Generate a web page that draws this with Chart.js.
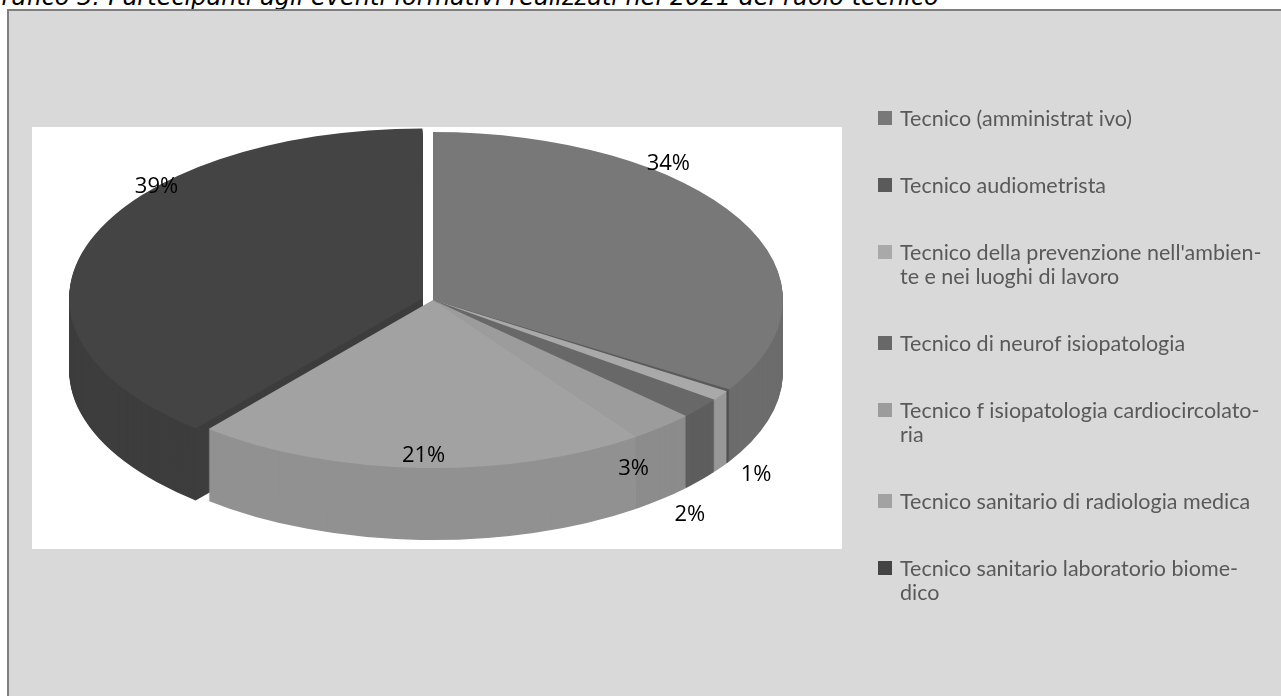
<!DOCTYPE html>
<html lang="it">
<head>
<meta charset="utf-8">
<script src="https://cdn.jsdelivr.net/npm/chart.js@4.4.0/dist/chart.umd.min.js"></script>
<style>
  html, body { margin: 0; padding: 0; background: #fff; width: 1281px; height: 696px; overflow: hidden; }
  #title {
    position: absolute; left: -17px; top: -15px; white-space: nowrap;
    font: italic 24px/24px "DejaVu Sans", sans-serif; color: #000;
  }
  #frame {
    position: absolute; left: 7px; top: 9px; width: 1300px; height: 720px;
    background: #d9d9d9; border: 2px solid #7f7f7f;
  }
  #plot { position: absolute; left: 32px; top: 127px; width: 810px; height: 422px; background: #fff; }
  #chart { position: absolute; left: 0; top: 0; }
  #legend {
    position: absolute; left: 878px; top: 106px; width: 400px;
    font: 21.5px/24px Lato, sans-serif; color: #595959;
  }
  .item { position: relative; padding-left: 22px; margin-bottom: 43px; white-space: pre; }
  .swatch { position: absolute; left: 0; top: 5px; width: 14px; height: 14px; }
</style>
</head>
<body>
<div id="title">Grafico 3: Partecipanti agli eventi formativi realizzati nel 2021 del ruolo tecnico</div>
<div id="frame"></div>
<div id="plot"></div>
<canvas id="chart" width="1281" height="696"></canvas>
<div id="legend"></div>

<script>
// Data
const categories = [
  'Tecnico (amministrat ivo)',
  'Tecnico audiometrista',
  "Tecnico della prevenzione nell'ambien-\nte e nei luoghi di lavoro",
  'Tecnico di neurof isiopatologia',
  'Tecnico f isiopatologia cardiocircolato-\nria',
  'Tecnico sanitario di radiologia medica',
  'Tecnico sanitario laboratorio biome-\ndico'
];
const shares = [34, 0.2, 1, 2, 3, 21, 39]; // percent
const sliceColors = ['#787878', '#5a5a5a', '#a9a9a9', '#686868', '#9c9c9c', '#a2a2a2', '#444444'];
const explode = [0, 0, 0, 0, 0, 0, 40];

// Fake 3D: squash the pie into an ellipse and extrude a side wall
const tiltPlugin = {
  id: 'tilt',
  beforeDatasetsDraw(chart, args, opts) {
    const ctx = chart.ctx;
    const arcs = chart.getDatasetMeta(0).data;
    const a0 = arcs[0];
    const R = a0.outerRadius;
    ctx.save();
    ctx.translate(opts.cx, opts.cy);
    ctx.scale(opts.rx / R, opts.ry / R);
    ctx.translate(-a0.x, -a0.y);

    // back slices first
    const order = arcs.map((a, i) => i)
      .sort((i, j) => Math.sin((arcs[i].startAngle + arcs[i].endAngle) / 2) - Math.sin((arcs[j].startAngle + arcs[j].endAngle) / 2));
    const step = R / opts.ry;
    order.forEach(i => {
      for (let d = opts.depth; d >= 1; d--) {
        ctx.save();
        ctx.translate(0, d * step);
        arcs[i].draw(ctx);
        ctx.restore();
      }
    });
    // darken the side wall
    ctx.save();
    ctx.setTransform(1, 0, 0, 1, 0, 0);
    ctx.globalCompositeOperation = 'source-atop';
    ctx.fillStyle = 'rgba(0,0,0,0.1)';
    ctx.fillRect(0, 0, chart.width, chart.height);
    ctx.restore();
  },
  afterDatasetsDraw(chart) {
    chart.ctx.restore();
  },
  afterDraw(chart, args, opts) {
    const ctx = chart.ctx;
    const arcs = chart.getDatasetMeta(0).data;
    ctx.save();
    ctx.font = '22px "Open Sans", sans-serif';
    ctx.fillStyle = '#000';
    ctx.textAlign = 'center';
    ctx.textBaseline = 'middle';
    arcs.forEach((arc, i) => {
      if (shares[i] < 0.5) return;
      const [da, f] = opts.labelTweak[i];
      const t = (arc.startAngle + arc.endAngle) / 2 + da * Math.PI / 180;
      const x = opts.cx + opts.rx * f * Math.cos(t);
      const y = opts.cy + opts.ry * f * Math.sin(t);
      ctx.fillText(Math.round(shares[i]) + '%', x, y);
    });
    ctx.restore();
  }
};

new Chart(document.getElementById('chart'), {
  type: 'pie',
  data: {
    labels: categories,
    datasets: [{
      data: shares,
      backgroundColor: sliceColors,
      borderWidth: 0,
      offset: explode,
      clip: false
    }]
  },
  options: {
    responsive: false,
    animation: false,
    events: [],
    plugins: {
      legend: { display: false },
      tooltip: { enabled: false },
      tilt: {
        cx: 433, cy: 300, rx: 350, ry: 168, depth: 72,
        labelTweak: [[-21.4, 1.053], [0, 0], [13.8, 1.392], [20.1, 1.475], [11.3, 1.158], [-0.5, 0.929], [20.5, 1.038]]
      }
    }
  },
  plugins: [tiltPlugin]
});

// Legend
const legend = document.getElementById('legend');
categories.forEach((name, i) => {
  const item = document.createElement('div');
  item.className = 'item';
  item.innerHTML = `<span class="swatch" style="background:${sliceColors[i]}"></span>${name}`;
  legend.appendChild(item);
});
</script>
</body>
</html>
